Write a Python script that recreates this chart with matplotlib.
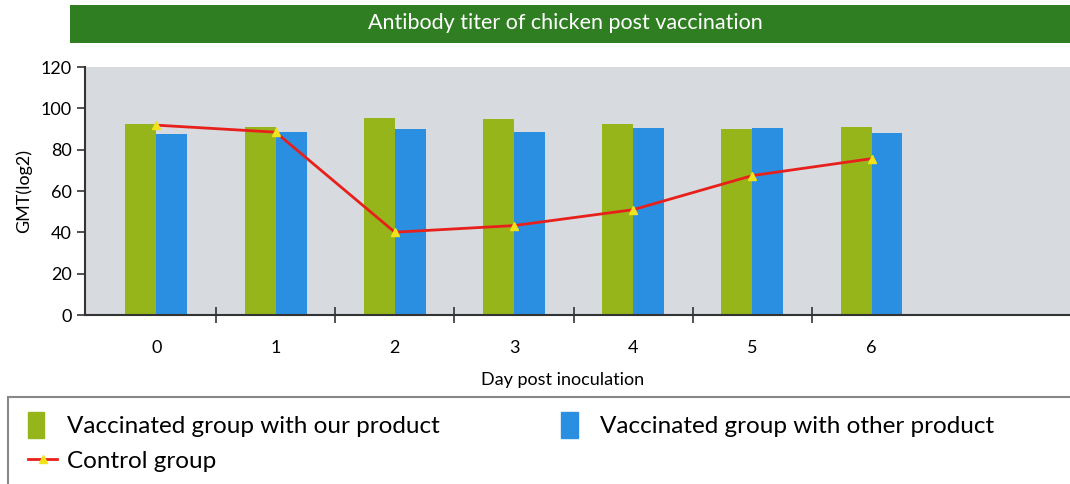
import numpy as np
import matplotlib
matplotlib.use("Agg")
import matplotlib.pyplot as plt
from matplotlib.patches import Rectangle, Patch
from matplotlib.lines import Line2D
from matplotlib.legend_handler import HandlerPatch

plt.rcParams['font.family'] = ['Lato', 'DejaVu Sans']

days = ['0', '1', '2', '3', '4', '5', '6']
our_product = [92.4, 91.2, 95.4, 94.8, 92.5, 90.0, 91.1]
other_product = [87.7, 88.5, 90.0, 88.7, 90.3, 90.4, 88.2]
control = [91.9, 88.5, 40.1, 43.3, 51.0, 67.5, 75.7]

green = '#96b51a'
blue = '#2a8fe0'
red = '#e8201c'
tri = '#f2e21a'

fig = plt.figure(figsize=(10.7, 4.84), dpi=100)

# title band
fig.patches.append(Rectangle((0.0654, 0.911), 0.94, 0.079, transform=fig.transFigure,
                             facecolor='#2f7e22', edgecolor='none', zorder=0))
fig.text(0.528, 0.953, 'Antibody titer of chicken post vaccination', color='white',
         ha='center', va='center', fontsize=15.5)

ax = fig.add_axes([0.0794, 0.349, 0.93, 0.5124])
ax.set_facecolor('#d7dade')
x = np.arange(len(days))
w = 0.26
ax.bar(x - w / 2, our_product, w, color=green, zorder=2)
ax.bar(x + w / 2, other_product, w, color=blue, zorder=2)
ax.plot(x, control, color=red, lw=2, marker='^', markersize=6,
        markerfacecolor=tri, markeredgecolor=tri, zorder=3)

ax.set_xlim(-0.6, 7.75)
ax.set_ylim(0, 120)
ax.set_yticks(range(0, 121, 20))
ax.set_xticks(x)
ax.set_xticklabels(days)
ax.set_xticks(x[:-1] + 0.5, minor=True)
ax.tick_params(axis='x', which='major', length=0, pad=18, labelsize=13)
ax.tick_params(axis='x', which='minor', direction='inout', length=12, width=1.2, color='#333333')
ax.tick_params(axis='y', direction='out', length=6, width=1.2, labelsize=13, color='#333333')
for s in ['top', 'right']:
    ax.spines[s].set_visible(False)
for s in ['left', 'bottom']:
    ax.spines[s].set_color('#333333')
    ax.spines[s].set_linewidth(1.5)
ax.set_ylabel('GMT(log2)', fontsize=13, labelpad=6)
ax.set_xlabel('Day post inoculation', fontsize=13)
ax.xaxis.set_label_coords(0.48, -0.23)

# legend area
fig.patches.append(Rectangle((0.0075, -0.01), 1.0, 0.19, transform=fig.transFigure,
                             facecolor='white', edgecolor='#888888', lw=1.5, zorder=0))


def narrow_box(legend, orig_handle, xdescent, ydescent, width, height, fontsize):
    return Rectangle((-xdescent, -ydescent - 0.1 * height), 0.55 * width, 1.2 * height)


handles = [Patch(color=green, label='Vaccinated group with our product'),
           Line2D([0], [0], color=red, lw=2, marker='^', markersize=6,
                  markerfacecolor=tri, markeredgecolor=tri, label='Control group'),
           Patch(color=blue, label='Vaccinated group with other product')]
fig.legend(handles=handles, ncol=2, loc='upper left', bbox_to_anchor=(0.006, 0.19),
           frameon=False, fontsize=17.5, handlelength=1.2, handleheight=1.0,
           columnspacing=5.0, labelspacing=0.5, handletextpad=0.4,
           handler_map={Patch: HandlerPatch(patch_func=narrow_box)})

fig.savefig('out.png', dpi=100)
